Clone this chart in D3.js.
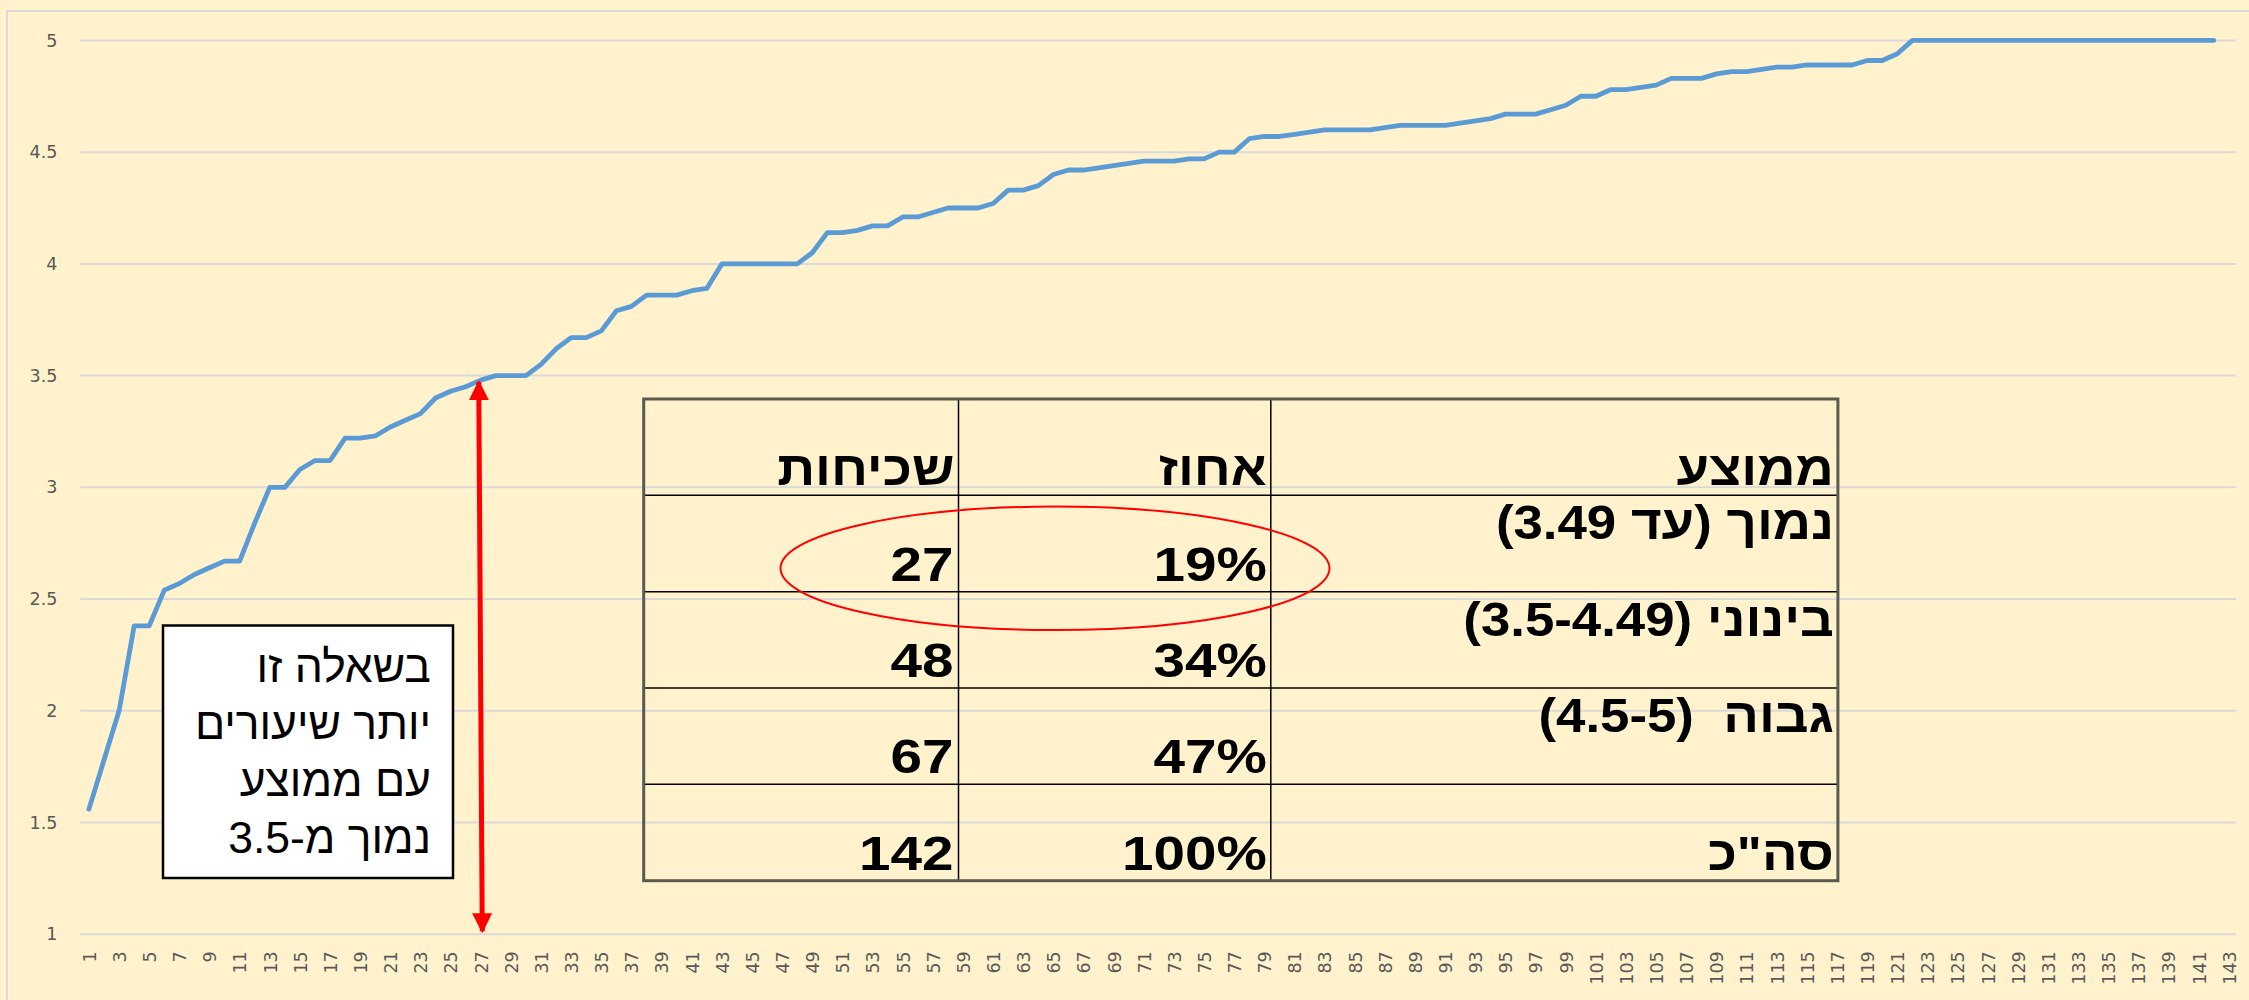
<!DOCTYPE html>
<html>
<head>
<meta charset="utf-8">
<script src="https://cdn.jsdelivr.net/npm/d3@7"></script>
<style>
  body { margin: 0; background: #FFF2CC; }
  svg { display: block; }
</style>
</head>
<body>
<div id="chart"></div>
<script>
// categories on the x axis (1..143, the last one has no value)
var categories = [];
for (var c = 1; c <= 143; c++) categories.push(c);

// average per lesson, sorted
var averages = [
  1.56, 1.78, 2.0, 2.38, 2.38, 2.54, 2.57, 2.61, 2.64, 2.67,
  2.67, 2.84, 3.0, 3.0, 3.08, 3.12, 3.12, 3.22, 3.22, 3.23,
  3.27, 3.30, 3.33, 3.40, 3.43, 3.45, 3.48, 3.5, 3.5, 3.5,
  3.55, 3.62, 3.67, 3.67, 3.70, 3.79, 3.81, 3.86, 3.86, 3.86,
  3.88, 3.89, 4.0, 4.0, 4.0, 4.0, 4.0, 4.0, 4.05, 4.14,
  4.14, 4.15, 4.17, 4.17, 4.21, 4.21, 4.23, 4.25, 4.25, 4.25,
  4.27, 4.33, 4.33, 4.35, 4.40, 4.42, 4.42, 4.43, 4.44, 4.45,
  4.46, 4.46, 4.46, 4.47, 4.47, 4.5, 4.5, 4.56, 4.57, 4.57,
  4.58, 4.59, 4.60, 4.60, 4.60, 4.60, 4.61, 4.62, 4.62, 4.62,
  4.62, 4.63, 4.64, 4.65, 4.67, 4.67, 4.67, 4.69, 4.71, 4.75,
  4.75, 4.78, 4.78, 4.79, 4.80, 4.83, 4.83, 4.83, 4.85, 4.86,
  4.86, 4.87, 4.88, 4.88, 4.89, 4.89, 4.89, 4.89, 4.91, 4.91,
  4.94, 5, 5, 5, 5, 5, 5, 5, 5, 5,
  5, 5, 5, 5, 5, 5, 5, 5, 5, 5,
  5, 5
];

var yTicks = [1, 1.5, 2, 2.5, 3, 3.5, 4, 4.5, 5];

// summary table
var tableHeaders = ["שכיחות", "אחוז", "ממוצע"];
var levelLabels = ["נמוך (עד 3.49)", "בינוני (3.5-4.49)", "גבוה  (4.5-5)", "סה\"כ"];
var levelPercents = ["19%", "34%", "47%", "100%"];
var levelCounts = [27, 48, 67, 142];

var noteLines = ["בשאלה זו", "יותר שיעורים", "עם ממוצע", "נמוך מ-3.5"];

var width = 2249, height = 1000;
var plotLeft = 81.4, plotRight = 2236.4, plotTop = 40.4, plotBottom = 934.3;

var svg = d3.select("#chart").append("svg")
  .attr("width", width)
  .attr("height", height);

svg.append("rect")
  .attr("width", width).attr("height", height)
  .attr("fill", "#FFF2CC");

// chart area border
svg.append("rect")
  .attr("x", 7).attr("y", 11)
  .attr("width", width + 20).attr("height", height + 20)
  .attr("fill", "none")
  .attr("stroke", "#d9d9d9")
  .attr("stroke-width", 2);

var x = d3.scalePoint()
  .domain(categories)
  .range([plotLeft, plotRight])
  .padding(0.5);

var y = d3.scaleLinear()
  .domain([1, 5])
  .range([plotBottom, plotTop]);

// gridlines
svg.append("g").selectAll("line")
  .data(yTicks)
  .enter().append("line")
  .attr("x1", plotLeft - 1).attr("x2", plotRight)
  .attr("y1", function(d) { return y(d); })
  .attr("y2", function(d) { return y(d); })
  .attr("stroke", "#d9d9d9")
  .attr("stroke-width", 2);

// y axis labels
var yAxis = svg.append("g")
  .attr("transform", "translate(" + plotLeft + ",0)")
  .call(d3.axisLeft(y).tickValues(yTicks).tickSize(0).tickPadding(24)
    .tickFormat(function(d) { return String(d); }));
yAxis.select(".domain").remove();
yAxis.selectAll("text")
  .attr("font-family", "DejaVu Sans")
  .attr("font-size", 17.5)
  .attr("fill", "#595959");

// x axis labels, odd categories only, rotated
var xAxis = svg.append("g")
  .attr("transform", "translate(0," + plotBottom + ")")
  .call(d3.axisBottom(x)
    .tickValues(categories.filter(function(d) { return d % 2 == 1; }))
    .tickSize(0));
xAxis.select(".domain").remove();
xAxis.selectAll("text")
  .attr("transform", "rotate(-90)")
  .attr("x", -17)
  .attr("y", 0)
  .attr("dy", "0.36em")
  .attr("text-anchor", "end")
  .attr("font-family", "DejaVu Sans")
  .attr("font-size", 17.5)
  .attr("fill", "#595959");

// the line
var line = d3.line()
  .x(function(d, i) { return x(categories[i]); })
  .y(function(d) { return y(d); });

svg.append("path")
  .datum(averages)
  .attr("d", line)
  .attr("fill", "none")
  .attr("stroke", "#5B9BD5")
  .attr("stroke-width", 4.8)
  .attr("stroke-linejoin", "round")
  .attr("stroke-linecap", "round");

// note box
var note = svg.append("g");
note.append("rect")
  .attr("x", 163).attr("y", 625.5)
  .attr("width", 290).attr("height", 252.5)
  .attr("fill", "#fff")
  .attr("stroke", "#000")
  .attr("stroke-width", 2.5);
note.selectAll("text")
  .data(noteLines)
  .enter().append("text")
  .attr("x", 431)
  .attr("y", function(d, i) { return 681.5 + i * 57.2; })
  .attr("direction", "rtl")
  .attr("text-anchor", "start")
  .attr("font-family", "Liberation Sans, Arial, sans-serif")
  .attr("font-size", 44.5)
  .attr("fill", "#000")
  .text(function(d) { return d; });

// red double arrow at the 27th lesson
var defs = svg.append("defs");
defs.append("marker")
  .attr("id", "head")
  .attr("viewBox", "0 0 10 10")
  .attr("refX", 9).attr("refY", 5)
  .attr("markerWidth", 4).attr("markerHeight", 4)
  .attr("markerUnits", "strokeWidth")
  .attr("orient", "auto-start-reverse")
  .append("path")
  .attr("d", "M0,0 L10,5 L0,10 Z")
  .attr("fill", "#FF0000");

var lowCount = levelCounts[0];
svg.append("line")
  .attr("x1", x(categories[lowCount - 1]) - 2)
  .attr("y1", y(averages[lowCount - 1]) + 2)
  .attr("x2", x(categories[lowCount - 1]) + 1.5)
  .attr("y2", y(1) - 3)
  .attr("stroke", "#FF0000")
  .attr("stroke-width", 5)
  .attr("marker-start", "url(#head)")
  .attr("marker-end", "url(#head)");

// table
var colEdges = [643.7, 958.5, 1270.8, 1837.9];
var rows = d3.scaleBand()
  .domain([0, 1, 2, 3, 4])
  .range([399, 880.7]);

var table = svg.append("g");
rows.domain().slice(1).forEach(function(r) {
  table.append("line")
    .attr("x1", colEdges[0]).attr("x2", colEdges[3])
    .attr("y1", rows(r)).attr("y2", rows(r))
    .attr("stroke", "#000").attr("stroke-width", 1.5);
});
[colEdges[1], colEdges[2]].forEach(function(cx) {
  table.append("line")
    .attr("x1", cx).attr("x2", cx)
    .attr("y1", 399).attr("y2", 880.7)
    .attr("stroke", "#000").attr("stroke-width", 1.5);
});
table.append("rect")
  .attr("x", colEdges[0]).attr("y", 399)
  .attr("width", colEdges[3] - colEdges[0])
  .attr("height", 880.7 - 399)
  .attr("fill", "none")
  .attr("stroke", "#5a5a50")
  .attr("stroke-width", 3);

var tfont = "Liberation Sans, Arial, sans-serif";
var tsize = 48;

// text in a cell, stretched a little wider like the original
function cellText(str, px, py, rtl, sx) {
  var t = table.append("text")
    .attr("transform", "translate(" + px + "," + py + ") scale(" + sx + ",1)")
    .attr("font-family", tfont)
    .attr("font-size", tsize)
    .attr("font-weight", "bold")
    .style("white-space", "pre")
    .text(str);
  if (rtl) t.attr("direction", "rtl").attr("text-anchor", "start");
  else t.attr("text-anchor", "end");
  return t;
}

// header row
tableHeaders.forEach(function(h, i) {
  cellText(h, colEdges[i + 1] - 4, rows(0) + rows.bandwidth() - 10, true, 1.1);
});

levelLabels.forEach(function(lab, i) {
  var r = i + 1;
  var bottom = rows(r) + rows.bandwidth();
  cellText(String(levelCounts[i]), colEdges[1] - 5, bottom - 11, false, 1.18);
  cellText(levelPercents[i], colEdges[2] - 4, bottom - 11, false, 1.18);
  cellText(lab, colEdges[3] - 4, i < 3 ? rows(r) + 44 : bottom - 11, true, 1.1);
});

// red ellipse round the low row
svg.append("ellipse")
  .attr("cx", 1055).attr("cy", 568.3)
  .attr("rx", 274.5).attr("ry", 61.7)
  .attr("fill", "none")
  .attr("stroke", "#FF0000")
  .attr("stroke-width", 2);
</script>
</body>
</html>
